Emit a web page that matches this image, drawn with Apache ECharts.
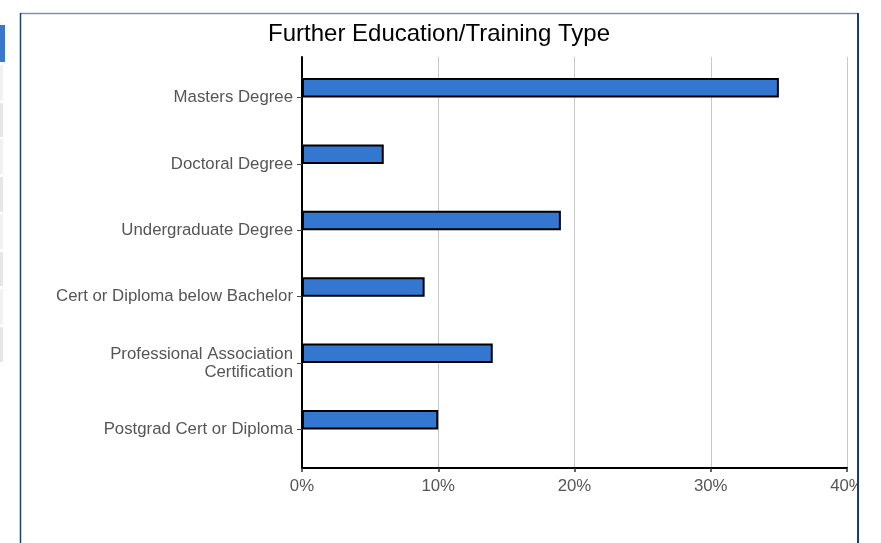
<!DOCTYPE html>
<html>
<head>
<meta charset="utf-8">
<script src="https://cdn.jsdelivr.net/npm/echarts@6/dist/echarts.min.js"></script>
<style>
html,body{margin:0;padding:0;background:#fff;}
#c{width:881px;height:543px;}
</style>
</head>
<body>
<div id="c"></div>
<script>
var categories = ['Masters Degree', 'Doctoral Degree', 'Undergraduate Degree', 'Cert or Diploma below Bachelor', 'Professional Association\nCertification', 'Postgrad Cert or Diploma'];
var values = [35, 6, 19, 9, 14, 10];
var emptyValues = ['-', '-', '-', '-', '-', '-'];
var title = 'Further Education/Training Type';
var xMin = 0, xMax = 40, xStep = 10;

var FONT = 'Liberation Sans, Arial, sans-serif';
var chart = echarts.init(document.getElementById('c'), null, {renderer: 'canvas'});

var sideBlocks = [];
var blockYs = [[65,35],[103,34],[139,35],[177,35],[214,35],[252,34],[289,35],[327,35]];
blockYs.forEach(function (b, i) {
  sideBlocks.push({type: 'rect', shape: {x: 0, y: b[0], width: 3, height: b[1]}, style: {fill: i % 2 ? '#e6e6e6' : '#f1f1f1'}, silent: true});
});

var option = {
  animation: false,
  backgroundColor: '#fff',
  title: {
    text: title, left: 439, textAlign: 'center', top: 22, padding: 0,
    textStyle: {fontFamily: FONT, fontSize: 24, fontWeight: 'normal', color: '#000'}
  },
  grid: [
    {left: 302, top: 57, width: 545, height: 411},
    {left: 302, top: 64.3, width: 545, height: 398.4}
  ],
  xAxis: [
    {
      gridIndex: 0, type: 'value', min: xMin, max: xMax, interval: xStep,
      axisLine: {show: true, lineStyle: {color: '#000', width: 2}},
      axisTick: {show: true, length: 4, lineStyle: {color: '#333', width: 1.5}},
      axisLabel: {formatter: '{value}%', color: '#555', fontSize: 16.8, fontFamily: FONT, margin: 10},
      splitLine: {show: true, lineStyle: {color: '#c8c8c8', width: 1}}
    },
    {
      gridIndex: 1, type: 'value', min: xMin, max: xMax, interval: xStep, show: false,
      splitLine: {show: false}
    }
  ],
  yAxis: [
    {
      gridIndex: 0, type: 'value', min: 0, max: 1,
      axisLine: {show: true, lineStyle: {color: '#000', width: 2}},
      axisTick: {show: false}, axisLabel: {show: false}, splitLine: {show: false}
    },
    {
      gridIndex: 1, type: 'category', data: categories, inverse: true,
      axisLine: {show: false},
      axisTick: {show: true, alignWithLabel: true, length: 5, lineStyle: {color: '#444', width: 1}},
      axisLabel: {color: '#555', fontSize: 16.8, fontFamily: FONT, margin: 9, lineHeight: 18},
      splitLine: {show: false}
    }
  ],
  series: [
    {
      type: 'bar', xAxisIndex: 1, yAxisIndex: 1, data: values,
      barWidth: 19.5, barGap: '0%',
      itemStyle: {color: '#3477d0', borderColor: '#000', borderWidth: 2},
      z: 3
    },
    {
      type: 'bar', xAxisIndex: 1, yAxisIndex: 1, data: emptyValues,
      barWidth: 19.5, barGap: '0%'
    }
  ],
  graphic: [
    {type: 'rect', shape: {x: 858, y: 0, width: 30, height: 543}, style: {fill: '#fff'}, z: 100, silent: true},
    {type: 'line', shape: {x1: 20.5, y1: 13.5, x2: 858, y2: 13.5}, style: {stroke: '#7d92ae', lineWidth: 1.5}, z: 101, silent: true},
    {type: 'line', shape: {x1: 20.5, y1: 13, x2: 20.5, y2: 543}, style: {stroke: '#1d3d6d', lineWidth: 1.5}, z: 101, silent: true},
    {type: 'line', shape: {x1: 858, y1: 13, x2: 858, y2: 543}, style: {stroke: '#1d3d6d', lineWidth: 2}, z: 101, silent: true},
    {type: 'rect', shape: {x: 0, y: 25, width: 5, height: 37}, style: {fill: '#3a78d0'}, silent: true}
  ].concat(sideBlocks)
};
chart.setOption(option);
</script>
</body>
</html>
